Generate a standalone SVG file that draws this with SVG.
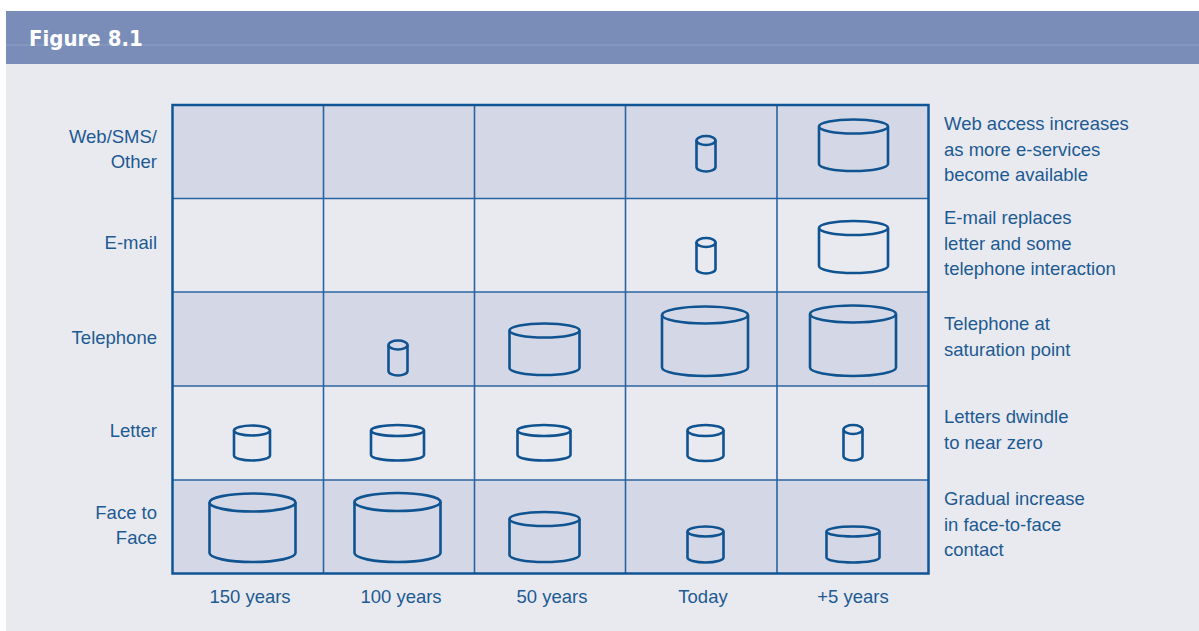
<svg xmlns="http://www.w3.org/2000/svg" width="1199" height="631" viewBox="0 0 1199 631">
<style>
.lbl{font-family:"Liberation Sans",Arial,sans-serif;font-size:18.5px;fill:#1d5a92}
.r{text-anchor:end}
.m{text-anchor:middle}
.cyl{fill:none;stroke:#0f5391;stroke-width:2.6;stroke-linejoin:round}
.shade{fill:#d4d8e6}
.grid{stroke:#2a63a0;stroke-width:1.6;fill:none}
</style>
<rect x="0" y="0" width="1199" height="631" fill="#ffffff"/>
<rect x="6" y="64" width="1193" height="567" fill="#e9eaf0"/>
<g id="header">
<rect x="6" y="11" width="1193" height="53" fill="#7a8db8"/>
<line x1="6" y1="45" x2="1199" y2="45" stroke="#8fa0c6" stroke-width="1"/>
<text x="29" y="46" font-family="'DejaVu Sans Condensed','Liberation Sans',sans-serif" font-size="22" font-weight="bold" fill="#ffffff">Figure 8.1</text>
</g>
<g id="table">
<rect class="shade" x="172.5" y="105" width="756" height="93.5"/>
<rect class="shade" x="172.5" y="292" width="756" height="94"/>
<rect class="shade" x="172.5" y="480" width="756" height="93.5"/>
<g class="grid">
<line x1="323.5" y1="105" x2="323.5" y2="573.5"/>
<line x1="474.5" y1="105" x2="474.5" y2="573.5"/>
<line x1="625.5" y1="105" x2="625.5" y2="573.5"/>
<line x1="777" y1="105" x2="777" y2="573.5"/>
<line x1="172.5" y1="198.5" x2="928.5" y2="198.5"/>
<line x1="172.5" y1="292" x2="928.5" y2="292"/>
<line x1="172.5" y1="386" x2="928.5" y2="386"/>
<line x1="172.5" y1="480" x2="928.5" y2="480"/>
</g>
<rect x="172.5" y="105" width="756" height="468.5" fill="none" stroke="#0f5595" stroke-width="2.5"/>
</g>
<g id="row-labels">
<text class="lbl r" x="157" y="143">Web/SMS/</text>
<text class="lbl r" x="157" y="168">Other</text>
<text class="lbl r" x="157" y="249">E-mail</text>
<text class="lbl r" x="157" y="344">Telephone</text>
<text class="lbl r" x="157" y="437">Letter</text>
<text class="lbl r" x="157" y="519">Face to</text>
<text class="lbl r" x="157" y="544">Face</text>
</g>
<g id="col-labels">
<text class="lbl m" x="250" y="603">150 years</text>
<text class="lbl m" x="401" y="603">100 years</text>
<text class="lbl m" x="552" y="603">50 years</text>
<text class="lbl m" x="703" y="603">Today</text>
<text class="lbl m" x="853" y="603">+5 years</text>
</g>
<g id="notes">
<text class="lbl" x="944" y="130">Web access increases</text>
<text class="lbl" x="944" y="155.5">as more e-services</text>
<text class="lbl" x="944" y="181">become available</text>
<text class="lbl" x="944" y="224">E-mail replaces</text>
<text class="lbl" x="944" y="249.5">letter and some</text>
<text class="lbl" x="944" y="275">telephone interaction</text>
<text class="lbl" x="944" y="330">Telephone at</text>
<text class="lbl" x="944" y="355.5">saturation point</text>
<text class="lbl" x="944" y="423">Letters dwindle</text>
<text class="lbl" x="944" y="448.5">to near zero</text>
<text class="lbl" x="944" y="505">Gradual increase</text>
<text class="lbl" x="944" y="530.5">in face-to-face</text>
<text class="lbl" x="944" y="556">contact</text>
</g>
<g id="cylinders" class="cyl">
<g id="web-today"><ellipse cx="706" cy="140.5" rx="9.5" ry="4.5"/><path d="M696.5 140.5V167A9.5 4.5 0 0 0 715.5 167V140.5"/></g>
<g id="web-plus5"><ellipse cx="853.5" cy="126.5" rx="34.5" ry="7"/><path d="M819 126.5V164A34.5 7 0 0 0 888 164V126.5"/></g>
<g id="email-today"><ellipse cx="706" cy="242.5" rx="9.5" ry="4.5"/><path d="M696.5 242.5V269A9.5 4.5 0 0 0 715.5 269V242.5"/></g>
<g id="email-plus5"><ellipse cx="853.5" cy="228" rx="34.5" ry="7"/><path d="M819 228V266A34.5 7 0 0 0 888 266V228"/></g>
<g id="tel-100"><ellipse cx="398" cy="345" rx="9.5" ry="4.5"/><path d="M388.5 345V371A9.5 4.5 0 0 0 407.5 371V345"/></g>
<g id="tel-50"><ellipse cx="544.5" cy="330.5" rx="35" ry="7"/><path d="M509.5 330.5V368A35 7 0 0 0 579.5 368V330.5"/></g>
<g id="tel-today"><ellipse cx="705" cy="315" rx="43" ry="8.5"/><path d="M662 315V367.5A43 8.5 0 0 0 748 367.5V315"/></g>
<g id="tel-plus5"><ellipse cx="853" cy="314" rx="43" ry="8.5"/><path d="M810 314V367.5A43 8.5 0 0 0 896 367.5V314"/></g>
<g id="letter-150"><ellipse cx="252" cy="430.5" rx="18" ry="5"/><path d="M234 430.5V455.5A18 5 0 0 0 270 455.5V430.5"/></g>
<g id="letter-100"><ellipse cx="397.5" cy="430.5" rx="26.5" ry="5.5"/><path d="M371 430.5V455A26.5 5.5 0 0 0 424 455V430.5"/></g>
<g id="letter-50"><ellipse cx="544" cy="430.5" rx="26.5" ry="5.5"/><path d="M517.5 430.5V455A26.5 5.5 0 0 0 570.5 455V430.5"/></g>
<g id="letter-today"><ellipse cx="705.5" cy="430.5" rx="18" ry="5.5"/><path d="M687.5 430.5V455.5A18 5.5 0 0 0 723.5 455.5V430.5"/></g>
<g id="letter-plus5"><ellipse cx="853" cy="429.5" rx="9.5" ry="4.5"/><path d="M843.5 429.5V456A9.5 4.5 0 0 0 862.5 456V429.5"/></g>
<g id="face-150"><ellipse cx="252.5" cy="502.5" rx="43" ry="9"/><path d="M209.5 502.5V553A43 9 0 0 0 295.5 553V502.5"/></g>
<g id="face-100"><ellipse cx="397.5" cy="502" rx="43" ry="9"/><path d="M354.5 502V553A43 9 0 0 0 440.5 553V502"/></g>
<g id="face-50"><ellipse cx="544.5" cy="519" rx="35" ry="7"/><path d="M509.5 519V555A35 7 0 0 0 579.5 555V519"/></g>
<g id="face-today"><ellipse cx="705.5" cy="531.5" rx="18" ry="5"/><path d="M687.5 531.5V557.5A18 5 0 0 0 723.5 557.5V531.5"/></g>
<g id="face-plus5"><ellipse cx="853" cy="531.5" rx="26.5" ry="5"/><path d="M826.5 531.5V557.5A26.5 5 0 0 0 879.5 557.5V531.5"/></g>
</g>
</svg>
